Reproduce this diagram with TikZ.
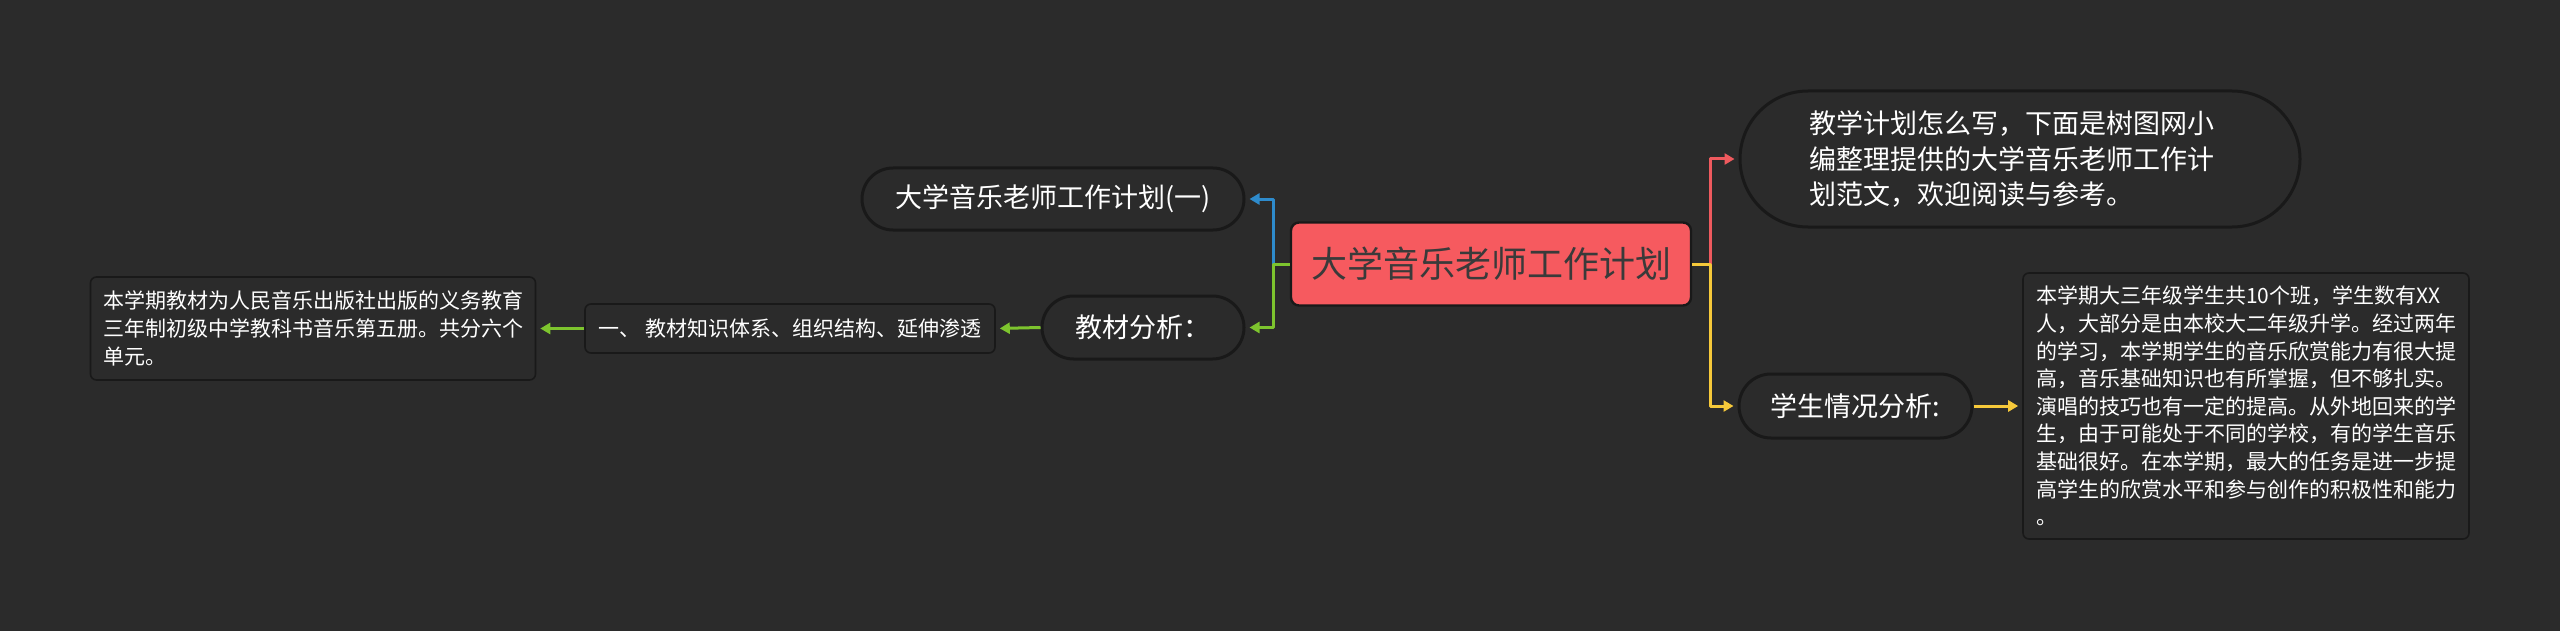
\documentclass[tikz,border=0pt]{standalone}
\usepackage{fontspec}
\newfontfamily\cjk{Noto Sans CJK SC}
\usetikzlibrary{arrows.meta}
\definecolor{bgc}{HTML}{2B2B2B}
\definecolor{rootc}{HTML}{F65A5F}
\definecolor{roott}{HTML}{3A3A3A}
\definecolor{cblue}{HTML}{2E8BCC}
\definecolor{cgreen}{HTML}{7DC42E}
\definecolor{cred}{HTML}{EF5A5E}
\definecolor{cyellow}{HTML}{F6C93A}
\begin{document}
\begin{tikzpicture}[x=0.5pt, y=-0.5pt, line join=round, font=\cjk, >={Triangle[length=5pt,width=5.5pt]},
  every node/.style={text=white, inner sep=0pt},
  rootbox/.style={draw=black!90, line width=1.2pt, fill=rootc, text=roott, rounded corners=4pt,
    minimum width=200pt, minimum height=41.5pt, font=\cjk\fontsize{18}{22}\selectfont},
  pill/.style={draw=black!90, line width=1.5pt, fill=bgc, rounded corners=#1,
    font=\cjk\fontsize{13.5}{17.75}\selectfont},
  textbox/.style={draw=black!90, line width=0.8pt, fill=bgc, rounded corners=3pt,
    font=\cjk\fontsize{10.5}{13.8}\selectfont},
  link/.style={line width=1.5pt, ->, shorten >=2pt}]
\fill[bgc] (0,0) rectangle (2560,631);
% centre and first level
\node[rootbox] (root) at (1491,264) {大学音乐老师工作计划};
\node[pill=15.5pt, minimum width=191pt, minimum height=31pt] (one) at (1053,199) {大学音乐老师工作计划(一)};
\node[pill=15.75pt, minimum width=101pt, minimum height=31.5pt] (ana) at (1143,327.5) {教材分析：};
\node[pill=34pt, minimum width=280pt, minimum height=68pt, text width=210.5pt, align=left] (intro) at (2020,159)
  {教学计划怎么写，下面是树图网小\\编整理提供的大学音乐老师工作计\\划范文，欢迎阅读与参考。};
\node[pill=16pt, minimum width=116.5pt, minimum height=32pt] (stu) at (1855.5,406) {学生情况分析:};
% leaves
\node[textbox, minimum width=205pt, minimum height=24.5pt] (know) at (790,328.5) {一、 教材知识体系、组织结构、延伸渗透};
\node[textbox, minimum width=222.5pt, minimum height=51.5pt, text width=210pt, align=left] (book) at (313,328.5)
  {本学期教材为人民音乐出版社出版的义务教育\\三年制初级中学教科书音乐第五册。共分六个\\单元。};
\node[textbox, minimum width=223pt, minimum height=133pt, text width=210pt, align=left] (stutext) at (2246,406)
  {本学期大三年级学生共10个班，学生数有XX\\人，大部分是由本校大二年级升学。经过两年\\的学习，本学期学生的音乐欣赏能力有很大提\\高，音乐基础知识也有所掌握，但不够扎实。\\演唱的技巧也有一定的提高。从外地回来的学\\生，由于可能处于不同的学校，有的学生音乐\\基础很好。在本学期，最大的任务是进一步提\\高学生的欣赏水平和参与创作的积极性和能力\\。};
% connectors
\draw[link, cblue] (root.west) -- ++(-16,0) |- (one.east);
\draw[link, cgreen] (root.west) -- ++(-16,0) |- (ana.east);
\draw[link, cred] (root.east) -- ++(18,0) |- (intro.west);
\draw[link, cyellow] (root.east) -- ++(18,0) |- (stu.west);
\foreach \a/\b/\c in {ana/know/cgreen, know/book/cgreen}
  \draw[link, \c] (\a.west) -- (\b.east);
\draw[link, cyellow] (stu.east) -- (stutext.west);
\end{tikzpicture}
\end{document}
